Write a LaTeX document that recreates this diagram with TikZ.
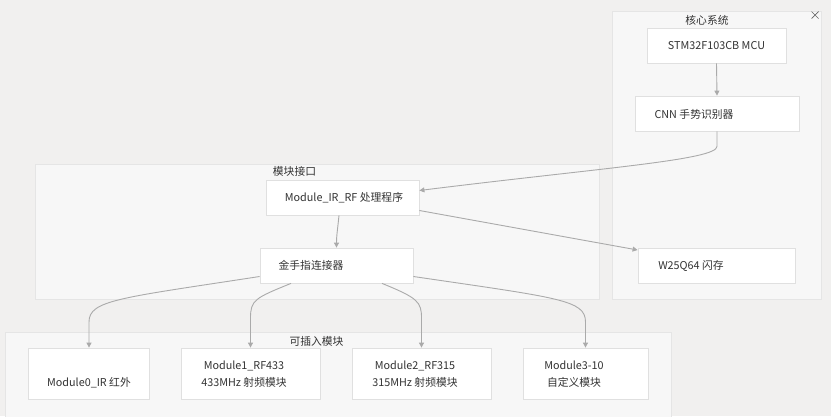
\documentclass[tikz,border=0pt]{standalone}
\usepackage{fontspec}
\setmainfont{Noto Sans CJK SC}
\usetikzlibrary{arrows.meta,positioning,calc}
\definecolor{FondGris}{HTML}{F1F0EF}
\definecolor{GroupeFond}{HTML}{F7F7F7}
\definecolor{GroupeBord}{HTML}{E5E5E5}
\definecolor{BoiteBord}{HTML}{E0E0E0}
\definecolor{FlecheGris}{HTML}{AAAAAA}
\definecolor{TexteGris}{HTML}{333333}

\begin{document}
\begin{tikzpicture}[x=1pt,y=-1pt,font=\fontsize{10.8}{17}\selectfont,
  groupe/.style={draw=GroupeBord,fill=GroupeFond,line width=0.8pt},
  boite/.style={draw=BoiteBord,fill=white,line width=0.8pt,inner sep=0pt},
  texte/.style={text=TexteGris,inner sep=0pt,align=center},
  fleche/.style={draw=FlecheGris,line width=0.9pt,-{Triangle[length=5pt,width=5pt]}}]
  % --- fond et cadre ---
  \clip (0,0) rectangle (831,416);
  \fill[FondGris] (0,0) rectangle (831,416);
  % --- groupes ---
  \draw[groupe] (612,11) rectangle (821,299);
  \node[texte] (coeurT) at (707,20) {核心系统};
  \draw[TexteGris!75,line width=0.7pt] (811.5,11.5) -- (818.5,18.5) (811.5,18.5) -- (818.5,11.5);
  \draw[groupe] (35,164) rectangle (599,299);
  \node[texte] (interT) at (294.5,171.5) {模块接口};
  \draw[groupe] (5,332) rectangle (671,430);
  \node[texte] (plugT) at (316.5,341) {可插入模块};
  % --- systeme central ---
  \node[boite,minimum width=139pt,minimum height=35pt] (stm) at (716.5,45.5) {};
  \node[texte] (stmT) at (716.5,45.5) {STM32F103CB MCU};
  \node[boite,minimum width=164pt,minimum height=35pt] (cnn) at (717,113.5) {};
  \node[texte] (cnnT) at (694,114) {CNN 手势识别器};
  \node[boite,minimum width=157pt,minimum height=35pt] (w25) at (716.5,265.5) {};
  \node[texte] (w25T) at (691,266) {W25Q64 闪存};
  % --- interface modules ---
  \node[boite,minimum width=153pt,minimum height=35pt] (irrf) at (342.5,197.5) {};
  \node[texte] (irrfT) at (344,197.5) {Module\_IR\_RF 处理程序};
  \node[boite,minimum width=153pt,minimum height=35pt] (jsz) at (336.5,265.5) {};
  \node[texte] (jszT) at (311,265.5) {金手指连接器};
  % --- modules enfichables ---
  \node[boite,minimum width=121pt,minimum height=51pt] (m0) at (89,373.5) {};
  \node[texte] (m0T) at (89,383) {Module0\_IR 红外};
  \node[boite,minimum width=139pt,minimum height=51pt] (m1) at (250.5,373.5) {};
  \node[texte] (m1T) at (244,374.5) {Module1\_RF433\\433MHz 射频模块};
  \node[boite,minimum width=139pt,minimum height=51pt] (m2) at (421.5,373.5) {};
  \node[texte] (m2T) at (415,374.5) {Module2\_RF315\\315MHz 射频模块};
  \node[boite,minimum width=125pt,minimum height=51pt] (m3) at (585.5,373.5) {};
  \node[texte] (m3T) at (574,374.5) {Module3-10\\自定义模块};
  % --- liaisons ---
  \draw[fleche] (stm.south) -- (cnn.north);
  \draw[fleche] (cnn.south) -- ++(0,15) .. controls (717,160) and (600,168) .. ([yshift=7pt]irrf.east);
  \draw[fleche] ([yshift=-13pt]irrf.east) -- ([yshift=15.5pt]w25.west);
  \draw[fleche] ([xshift=-3.5pt]irrf.south) .. controls (337.5,230) and (336.5,236) .. (jsz.north);
  \draw[fleche] ([yshift=-11pt]jsz.west) .. controls (120,298) and (89,300) .. (89,322) -- (m0.north);
  \draw[fleche] ([xshift=-45.5pt]jsz.south) .. controls (255,298) and (250.5,300) .. (250.5,318) -- (m1.north);
  \draw[fleche] ([xshift=45.5pt]jsz.south) .. controls (418,298) and (421.5,302) .. (421.5,318) -- (m2.north);
  \draw[fleche] ([yshift=-11pt]jsz.east) .. controls (560,298) and (585.5,300) .. (585.5,322) -- (m3.north);
\end{tikzpicture}
\end{document}
